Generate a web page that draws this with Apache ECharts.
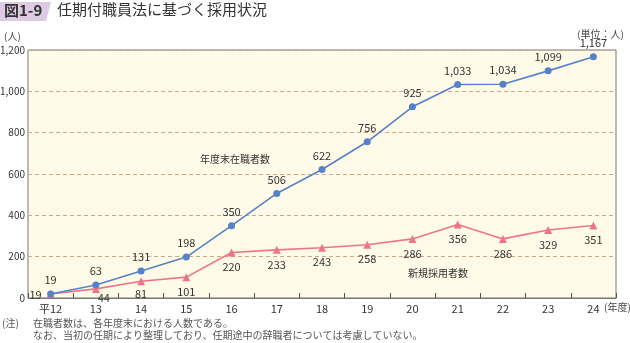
<!DOCTYPE html>
<html><head><meta charset="utf-8">
<script src="https://cdn.jsdelivr.net/npm/echarts@6/dist/echarts.min.js"></script>
<style>html,body{margin:0;padding:0;background:#fff}#c{width:630px;height:343px}</style>
</head><body><div id="c"></div>
<script>
const categories = ['平12','13','14','15','16','17','18','19','20','21','22','23','24'];
const staffTotal = [19,63,131,198,350,506,622,756,925,1033,1034,1099,1167];
const newHires = [19,44,81,101,220,233,243,258,286,356,286,329,351];
const yTicks = {min:0, max:1200, interval:200};

const FONT = '"Noto Sans CJK JP","Noto Sans",sans-serif';
const fmt = v => String(v).replace(/\B(?=(\d{3})+(?!\d))/g, ',');

const chart = echarts.init(document.getElementById('c'), null, {renderer:'canvas'});
chart.setOption({
  animation:false,
  textStyle:{fontFamily:FONT},
  grid:{left:28,right:14,top:50,bottom:45,show:true,containLabel:false,outerBoundsMode:'none',
    backgroundColor:'#fffbe8',borderColor:'#777',borderWidth:1},
  xAxis:{type:'category',data:categories,boundaryGap:true,
    axisLine:{lineStyle:{color:'#777',width:1}},
    axisTick:{show:true,inside:true,length:5,lineStyle:{color:'#555'}},
    axisLabel:{color:'#333',fontSize:11,margin:5,fontFamily:FONT}},
  yAxis:{type:'value',min:yTicks.min,max:yTicks.max,interval:yTicks.interval,
    axisLine:{show:false},axisTick:{show:false},
    axisLabel:{color:'#333',fontSize:10,margin:3,formatter:v=>fmt(v),fontFamily:FONT},
    splitLine:{lineStyle:{color:'#c7a98c',type:[4,3],width:1}}},
  series:[
    {name:'年度末在職者数',type:'line',data:staffTotal,symbol:'circle',symbolSize:7,
     itemStyle:{color:'#5582c8'},lineStyle:{color:'#5582c8',width:1.6},
     label:{show:true,position:'top',distance:5,color:'#333',fontSize:11,formatter:p=>fmt(p.value)},z:3},
    {name:'新規採用者数',type:'line',data:newHires.map((v,i)=>{
        if(i===0) return {value:v,label:{position:'left',distance:5,offset:[0,1]}};
        if(i===1) return {value:v,label:{position:'bottom',offset:[8,-6]}};
        if(i===2) return {value:v,label:{position:'bottom',offset:[0,-2]}};
        return v;}),
     symbol:'triangle',symbolSize:8,
     itemStyle:{color:'#ee7589'},lineStyle:{color:'#ee7589',width:1.6},
     label:{show:true,position:'bottom',distance:5,color:'#333',fontSize:11,formatter:p=>fmt(p.value)},z:2}
  ],
  graphic:[
    {type:'polygon',shape:{points:[[0,2],[51,2],[46,21],[0,21]]},style:{fill:'#dccbe3'}},
    {type:'text',left:4,top:3,style:{text:'図1-9',fill:'#333',font:'bold 15px '+FONT}},
    {type:'text',left:57,top:2,style:{text:'任期付職員法に基づく採用状況',fill:'#333',font:'15px '+FONT}},
    {type:'text',left:4,top:31,style:{text:'(人)',fill:'#444',font:'10px '+FONT}},
    {type:'text',right:6,top:29,style:{text:'(単位：人)',fill:'#444',font:'10px '+FONT}},
    {type:'text',left:200,top:154,style:{text:'年度末在職者数',fill:'#333',font:'10px '+FONT}},
    {type:'text',left:408,top:268,style:{text:'新規採用者数',fill:'#333',font:'10px '+FONT}},
    {type:'text',left:604,top:302,style:{text:'(年度)',fill:'#444',font:'10px '+FONT}},
    {type:'text',left:2,top:318,style:{text:'(注)',fill:'#555',font:'10px '+FONT}},
    {type:'text',left:33,top:318,style:{text:'在職者数は、各年度末における人数である。',fill:'#555',font:'10px '+FONT}},
    {type:'text',left:33,top:330,style:{text:'なお、当初の任期により整理しており、任期途中の辞職者については考慮していない。',fill:'#555',font:'10px '+FONT}}
  ]
});
</script></body></html>
